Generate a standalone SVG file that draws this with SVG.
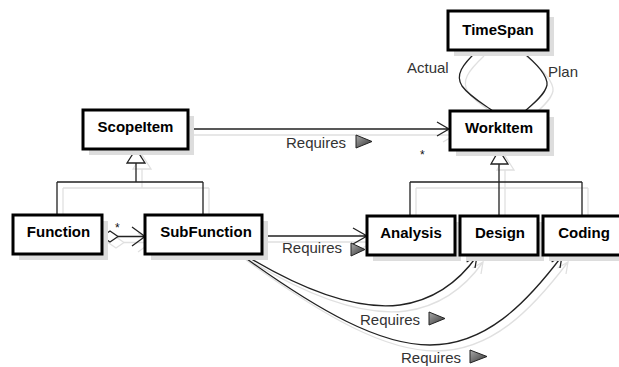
<svg xmlns="http://www.w3.org/2000/svg" xmlns:xlink="http://www.w3.org/1999/xlink" width="619" height="367" viewBox="0 0 619 367">
<style>
.box{fill:#fff;stroke:#000;stroke-width:3}
.shd{fill:#ddd;stroke:none}
.nm{font-family:"Liberation Sans",Arial,sans-serif;font-size:15px;font-weight:bold;fill:#000;text-anchor:middle}
.lb{font-family:"Liberation Sans",Arial,sans-serif;font-size:15px;fill:#333}
.st{font-family:"Liberation Sans",Arial,sans-serif;font-size:12px;fill:#111}
.tri{fill:url(#g);stroke:#222;stroke-width:1}
</style>
<defs>
<linearGradient id="g" x1="0" y1="0" x2="1" y2="1">
<stop offset="0" stop-color="#aaa"/>
<stop offset="1" stop-color="#333"/>
</linearGradient>
</defs>
<rect width="619" height="367" fill="#fff"/>
<use xlink:href="#connectors" href="#connectors" stroke="#e0e0e0" transform="translate(6,6)"/>
<g stroke="#222">
<g id="connectors" fill="none" stroke-width="1.3">
<path d="M188,129 H449 M437,122 L449,129 L437,136"/>
<path d="M478,50 C462,65 455,75 462,86 C470,97 485,105 493,111"/>
<path d="M520,50 C535,62 548,75 547,85 C545,95 532,105 525,111"/>
<path d="M136,163 V182 M57,182 H203 M57,182 V215 M203,182 V215"/>
<path d="M499,164 V216 M410,182 H582 M410,182 V216 M582,182 V216"/>
<path d="M118,236.5 H145 M132,227 L145,236.5 L132,246"/>
<path d="M262,236 H367 M353,228 L367,236 L353,244"/>
<path d="M243,254 C310,295 360,310 400,305 C435,300 460,280 477,256 M475,268 L477,256 L466.6,262"/>
<path d="M240,254 C320,312 380,345 430,345 C485,345 525,305 562,256 M560,268 L562,256 L551.6,262"/>
<path fill="#fff" d="M127,163 L136,149 L145,163 Z M491,164 L499,150 L508,164 Z M102,236.5 L110,231 L118,236.5 L110,242 Z"/>
</g>
</g>
<g id="TimeSpan"><rect class="shd" x="454" y="17" width="100" height="39"/><rect class="box" x="448" y="11" width="100" height="39"/><text class="nm" x="498" y="35">TimeSpan</text></g>
<g id="WorkItem"><rect class="shd" x="456" y="117" width="98" height="39"/><rect class="box" x="450" y="111" width="98" height="39"/><text class="nm" x="499" y="133">WorkItem</text></g>
<g id="ScopeItem"><rect class="shd" x="89" y="116" width="105" height="39"/><rect class="box" x="83" y="110" width="105" height="39"/><text class="nm" x="135.5" y="132">ScopeItem</text></g>
<g id="Function"><rect class="shd" x="19" y="221" width="89" height="39"/><rect class="box" x="13" y="215" width="89" height="39"/><text class="nm" x="58.5" y="237">Function</text></g>
<g id="SubFunction"><rect class="shd" x="151" y="221" width="117" height="39"/><rect class="box" x="145" y="215" width="117" height="39"/><text class="nm" x="206" y="237">SubFunction</text></g>
<g id="Analysis"><rect class="shd" x="373" y="222" width="88" height="39"/><rect class="box" x="367" y="216" width="88" height="39"/><text class="nm" x="411" y="238">Analysis</text></g>
<g id="Design"><rect class="shd" x="466" y="222" width="78" height="39"/><rect class="box" x="460" y="216" width="78" height="39"/><text class="nm" x="500" y="238">Design</text></g>
<g id="Coding"><rect class="shd" x="549" y="222" width="80" height="39"/><rect class="box" x="543" y="216" width="80" height="39"/><text class="nm" x="584" y="238">Coding</text></g>
<g id="labels">
<text class="lb" x="407" y="73">Actual</text>
<text class="lb" x="548" y="77">Plan</text>
<text class="lb" x="286" y="148">Requires</text>
<polygon class="tri" points="356,135 372,141.5 356,148"/>
<text class="st" x="420" y="159">*</text>
<text class="st" x="115" y="232">*</text>
<text class="lb" x="282" y="253">Requires</text>
<polygon class="tri" points="351,243 365,249.5 351,256"/>
<text class="lb" x="360" y="325">Requires</text>
<polygon class="tri" points="429,312 445,318.5 429,325"/>
<text class="lb" x="401" y="363">Requires</text>
<polygon class="tri" points="470,350 487,356.5 470,363"/>
</g>
</svg>
